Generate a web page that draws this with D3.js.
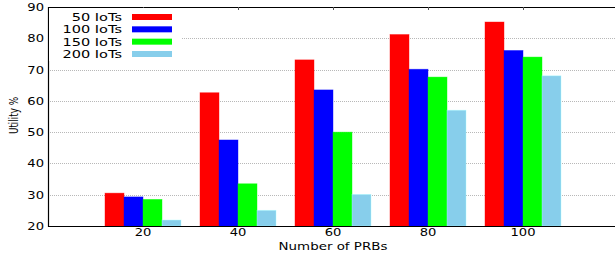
<!DOCTYPE html>
<html>
<head>
<meta charset="utf-8">
<script src="https://d3js.org/d3.v7.min.js"></script>
<style>
  body { margin: 0; background: #fff; }
  svg text { font-family: "DejaVu Sans", Verdana, sans-serif; fill: #000; }
</style>
</head>
<body>
<div id="chart"></div>
<script>
// data
var prbs = [20, 40, 60, 80, 100];
var series = ["50 IoTs", "100 IoTs", "150 IoTs", "200 IoTs"];
var colors = ["#ff0000", "#0000ff", "#00ff00", "#87ceeb"];
var iot50  = [30.5, 62.6, 73.1, 81.2, 85.2];
var iot100 = [29.3, 47.5, 63.5, 70.1, 76.1];
var iot150 = [28.5, 33.5, 50.0, 67.6, 74.0];
var iot200 = [21.9, 25.0, 30.1, 57.0, 68.0];
var yTicks = [20, 30, 40, 50, 60, 70, 80, 90];

var values = [iot50, iot100, iot150, iot200];

var width = 615, height = 255;
var padLeft = 48, padTop = 7, padBottom = 226;

var svg = d3.select("#chart").append("svg")
  .attr("width", width)
  .attr("height", height);

var x = d3.scaleLinear().domain([0, 120]).range([padLeft, 618]);
var y = d3.scaleLinear().domain([20, 90]).range([padBottom, padTop]);

// grid
svg.append("g").selectAll("line")
  .data(yTicks.slice(1, -1))
  .enter().append("line")
    .attr("x1", padLeft).attr("x2", width)
    .attr("y1", function(d) { return Math.round(y(d)) + 0.5; })
    .attr("y2", function(d) { return Math.round(y(d)) + 0.5; })
    .attr("stroke", "#b8b8b8")
    .attr("stroke-width", 1)
    .attr("stroke-dasharray", "1,1");

// bars
var barW = 4; // in x units
series.forEach(function(s, i) {
  svg.append("g").selectAll("rect")
    .data(prbs)
    .enter().append("rect")
      .attr("x", function(d) { return x(d - 8 + barW * i); })
      .attr("width", function(d) { return x(d - 8 + barW * (i + 1)) - x(d - 8 + barW * i); })
      .attr("y", function(d, j) { return y(values[i][j]); })
      .attr("height", function(d, j) { return y(20) - y(values[i][j]); })
      .attr("fill", colors[i])
      .attr("stroke", d3.color(colors[i]).brighter(0.6))
      .attr("stroke-opacity", 0.5)
      .attr("stroke-width", 0.8);
});

// frame
svg.append("line").attr("x1", padLeft).attr("x2", width).attr("y1", padTop + 0.5).attr("y2", padTop + 0.5)
  .attr("stroke", "#000").attr("stroke-width", 1.2);
svg.append("line").attr("x1", padLeft).attr("x2", width).attr("y1", padBottom + 0.5).attr("y2", padBottom + 0.5)
  .attr("stroke", "#000").attr("stroke-width", 1.2);
svg.append("line").attr("x1", padLeft + 0.5).attr("x2", padLeft + 0.5).attr("y1", padTop).attr("y2", padBottom + 1)
  .attr("stroke", "#000").attr("stroke-width", 1.2);

// mirror ticks on top
svg.append("g").selectAll("line")
  .data(prbs)
  .enter().append("line")
    .attr("x1", function(d) { return Math.round(x(d)) + 0.5; })
    .attr("x2", function(d) { return Math.round(x(d)) + 0.5; })
    .attr("y1", padTop).attr("y2", padTop + 3)
    .attr("stroke", "#555");

// the original text is stretched sideways, so scale it a bit
function wide(px, py, sx) {
  return "translate(" + px + "," + py + ") scale(" + sx + ",1)";
}

// y tick labels
svg.append("g").selectAll("text")
  .data(yTicks)
  .enter().append("text")
    .attr("transform", function(d) { return wide(44, y(d) + 4, 1.25); })
    .attr("text-anchor", "end")
    .style("font-size", "10.5px")
    .text(function(d) { return d; });

// x tick labels
svg.append("g").selectAll("text")
  .data(prbs)
  .enter().append("text")
    .attr("transform", function(d) { return wide(x(d), 236, 1.25); })
    .attr("text-anchor", "middle")
    .style("font-size", "10.5px")
    .text(function(d) { return d; });

svg.append("text")
  .attr("transform", wide(333, 250, 1.22))
  .attr("text-anchor", "middle")
  .style("font-size", "11px")
  .text("Number of PRBs");

svg.append("text")
  .attr("transform", "translate(18,115.5) rotate(-90) scale(0.68,1)")
  .attr("text-anchor", "middle")
  .style("font-size", "13px")
  .text("Utility %");

// legend
var leg = svg.append("g");
leg.append("rect").attr("x", padLeft + 1).attr("y", padTop + 1).attr("width", 132).attr("height", 53).attr("fill", "#fff");
series.forEach(function(s, i) {
  var base = 21 + i * 12.33;
  leg.append("text")
    .attr("transform", wide(122, base, 1.32))
    .attr("text-anchor", "end")
    .style("font-size", "11px")
    .text(s);
  leg.append("rect")
    .attr("x", 132).attr("y", base - 7)
    .attr("width", 40).attr("height", 6)
    .attr("fill", colors[i]);
});
</script>
</body>
</html>
